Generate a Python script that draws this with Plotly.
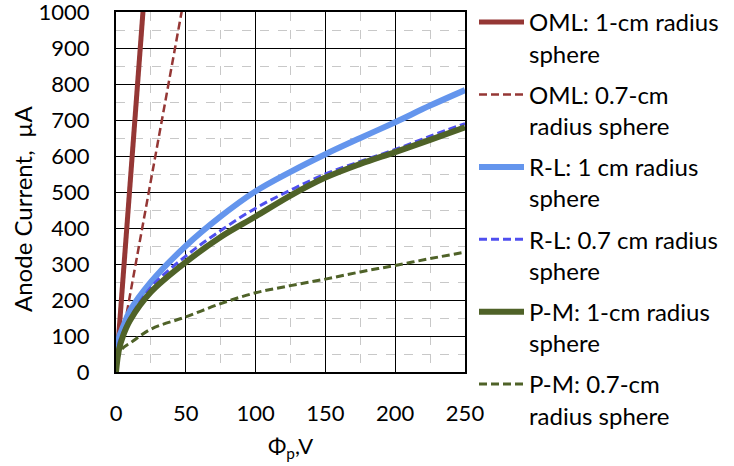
import plotly.graph_objects as go

# Data
oml1_v = [0, 20]
oml1_i = [0, 1036]
oml07_v = [0, 50]
oml07_i = [0, 1064]

rl_v = [0, 2, 5, 10, 25, 50, 75, 100, 125, 150, 175, 200, 225, 250]
rl1_i = [60, 95, 125, 170, 250, 350, 432, 502, 556, 605, 650, 694, 740, 783]
rl07_i = [40, 80, 110, 150, 235, 322, 393, 455, 505, 550, 585, 618, 655, 690]
pm1_i = [0, 60, 100, 143, 222, 305, 375, 432, 490, 540, 578, 611, 645, 680]
pm07_i = [0, 46, 67, 80, 119, 153, 190, 220, 240, 258, 278, 296, 315, 333]

names = [
    "OML: 1-cm radius<br>sphere",
    "OML: 0.7-cm<br>radius sphere",
    "R-L: 1 cm radius<br>sphere",
    "R-L: 0.7 cm radius<br>sphere",
    "P-M: 1-cm radius<br>sphere",
    "P-M: 0.7-cm<br>radius sphere",
]
y_title = "Anode Current,\u00a0 µA"
x_title = "Φ<sub>p</sub>,V"

FONT = "Lato"
W, H = 734, 466
PL, PR, PT, PB = 116, 465, 12, 372  # plot area in pixels

styles = [
    dict(color="#953735", width=5),
    dict(color="#953735", width=2.5, dash="8px,4px"),
    dict(color="#6495ED", width=6, shape="spline"),
    dict(color="#4F4FEF", width=3, dash="8px,4px", shape="spline"),
    dict(color="#4F6228", width=6, shape="spline"),
    dict(color="#4F6228", width=3, dash="8px,4px", shape="spline"),
]
series = [
    (oml1_v, oml1_i), (oml07_v, oml07_i), (rl_v, rl1_i),
    (rl_v, rl07_i), (rl_v, pm1_i), (rl_v, pm07_i),
]

fig = go.Figure()
for k, ((xv, yv), st) in enumerate(zip(series, styles)):
    fig.add_trace(go.Scatter(x=xv, y=yv, mode="lines", name=names[k],
                             legendgroup=f"g{k}", line=st))

fig.update_layout(
    width=W, height=H,
    margin=dict(l=0, r=0, t=0, b=0, autoexpand=False),
    paper_bgcolor="white", plot_bgcolor="rgba(0,0,0,0)",
    font=dict(family=FONT, size=22, color="black"),
    showlegend=True,
    legend=dict(x=474 / W, xanchor="left", y=1, yanchor="top",
                valign="top", font=dict(family=FONT, size=24, color="black"),
                itemwidth=45, bgcolor="rgba(0,0,0,0)", tracegroupgap=7),
    annotations=[
        dict(text=y_title, textangle=-90, xref="paper", yref="paper",
             x=22 / W, y=1 - 209 / H, xanchor="center", yanchor="middle",
             showarrow=False, font=dict(family=FONT, size=24, color="black")),
        dict(text=x_title, xref="paper", yref="paper",
             x=(PL + PR) / 2 / W, y=1 - 447 / H, xanchor="center", yanchor="middle",
             showarrow=False, font=dict(family=FONT, size=22, color="black")),
    ],
)
fig.update_xaxes(
    domain=[PL / W, PR / W], automargin=False,
    range=[0, 250], dtick=50, showgrid=True, gridcolor="black", gridwidth=1.2,
    minor=dict(dtick=25, showgrid=True, gridcolor="#C8C8C8", griddash="dash", gridwidth=1),
    showline=True, linecolor="black", linewidth=2, mirror=True,
    ticks="", ticklabelstandoff=21, zeroline=False, ticklabeloverflow="allow",
    tickfont=dict(family=FONT, size=22),
)
fig.update_yaxes(
    domain=[1 - PB / H, 1 - PT / H], automargin=False,
    range=[0, 1000], dtick=100, showgrid=True, gridcolor="black", gridwidth=1.2,
    minor=dict(dtick=50, showgrid=True, gridcolor="#C8C8C8", griddash="dash", gridwidth=1),
    showline=True, linecolor="black", linewidth=2, mirror=True,
    ticks="", ticklabelstandoff=20, zeroline=False, ticklabeloverflow="allow",
    tickfont=dict(family=FONT, size=22),
)

fig.write_html("out.html", config={"displayModeBar": False},
               post_script="document.body.style.margin='0';document.body.style.overflow='hidden';")
